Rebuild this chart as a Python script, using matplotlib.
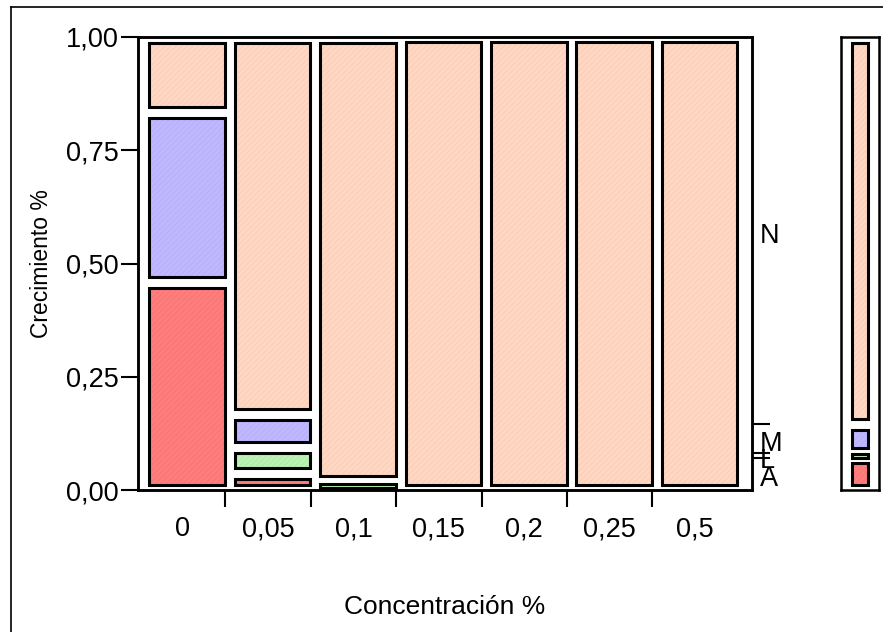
import numpy as np
import matplotlib.pyplot as plt
from matplotlib.patches import Rectangle
from matplotlib.lines import Line2D
from matplotlib.transforms import blended_transform_factory, offset_copy

plt.rcParams['font.family'] = ['Liberation Sans', 'DejaVu Sans']
plt.rcParams['hatch.linewidth'] = 0.6

# proporciones de crecimiento por concentración
concentraciones = ['0', '0,05', '0,1', '0,15', '0,2', '0,25', '0,5']
niveles = ['A', 'L', 'M', 'N']
prop_A = [0.458, 0.037, 0.0, 0.0, 0.0, 0.0, 0.0]
prop_L = [0.0, 0.056, 0.019, 0.0, 0.0, 0.0, 0.0]
prop_M = [0.375, 0.074, 0.0, 0.0, 0.0, 0.0, 0.0]
prop_N = [0.167, 0.833, 0.981, 1.0, 1.0, 1.0, 1.0]

colores = {'A': '#ff7d7d', 'L': '#baf3b3', 'M': '#c0b8ff', 'N': '#ffd7c2'}
trama = {'A': '#f57474', 'L': '#aee9a7', 'M': '#b6adf8', 'N': '#f7cdb7'}

tabla = np.array([prop_A, prop_L, prop_M, prop_N])
marginal = tabla.mean(axis=1)

W, H = 883, 632
fig = plt.figure(figsize=(W / 100, H / 100), dpi=100)


def ejes(x0, y0, x1, y1):
    return fig.add_axes([x0 / W, 1 - y1 / H, (x1 - x0) / W, (y1 - y0) / H])


# marco exterior
fig.add_artist(Line2D([11 / W, 11 / W], [0, 1 - 7 / H], color='black', lw=1.2))
fig.add_artist(Line2D([11 / W, 1], [1 - 7 / H, 1 - 7 / H], color='black', lw=1.2))

ax = ejes(138, 37, 752, 490)
ax_m = ejes(841, 37, 879, 490)

GAP = 5.5 / 453
MIN_H = 4.0 / 453


def celda(axis, x0, x1, a, b, nivel):
    y0, y1 = a + GAP, b - GAP
    if y1 - y0 < MIN_H:
        c = (a + b) / 2
        y0, y1 = c - MIN_H / 2, c + MIN_H / 2
    axis.add_patch(Rectangle((x0, y0), x1 - x0, y1 - y0, facecolor=colores[nivel],
                             edgecolor=trama[nivel], lw=0, hatch='//////'))
    axis.add_patch(Rectangle((x0, y0), x1 - x0, y1 - y0, fill=False,
                             edgecolor='black', lw=2.2, joinstyle='miter'))


for k in range(len(concentraciones)):
    base = 0.0
    for i, nivel in enumerate(niveles):
        p = tabla[i, k]
        if p > 0:
            celda(ax, k + 0.111, k + 0.996, base, base + p, nivel)
        base += p

ax.set_xlim(-2 / 85.4, 612 / 85.4)
ax.set_ylim(0, 1)
ax.set_yticks([0, 0.25, 0.5, 0.75, 1.0])
ax.set_yticklabels(['0,00', '0,25', '0,50', '0,75', '1,00'])
ax.set_xticks(range(1, len(concentraciones)))
ax.set_xticklabels([])
ax.set_xticks(np.arange(len(concentraciones)) + 0.5, minor=True)
ax.set_xticklabels(concentraciones, minor=True)
ax.tick_params(axis='y', length=12, width=1.5, pad=2, labelsize=19.5)
ax.tick_params(axis='x', which='major', length=12, width=1.5)
ax.tick_params(axis='x', which='minor', length=0, pad=19, labelsize=19.5)
for s in ax.spines.values():
    s.set_linewidth(1.8)

# ejes de la derecha con las proporciones globales
ax2 = ax.twinx()
ax2.set_ylim(0, 1)
cortes = np.cumsum(marginal)[:-1]
ax2.set_yticks(cortes)
ax2.tick_params(axis='y', length=13, width=1.5, labelright=False)
for s in ax2.spines.values():
    s.set_linewidth(1.8)

trans = offset_copy(blended_transform_factory(ax.transAxes, ax.transData),
                    fig=fig, y=-5, units='dots')
base = 0.0
for nivel, p in zip(niveles, marginal):
    ax.text(1.013, base + p / 2, nivel, transform=trans, ha='left', va='center',
            fontsize=19.5)
    base += p

# columna marginal
base = 0.0
for nivel, p in zip(niveles, marginal):
    celda(ax_m, 0.29, 0.70, base, base + p, nivel)
    base += p
ax_m.set_xlim(0, 1)
ax_m.set_ylim(0, 1)
ax_m.set_xticks([])
ax_m.set_yticks([])
for s in ax_m.spines.values():
    s.set_linewidth(1.8)

fig.text(42 / W, 1 - 263.5 / H, 'Crecimiento %', rotation=90, ha='center',
         va='center', fontsize=16.5)
fig.text(445 / W, 1 - 607 / H, 'Concentración %', ha='center', va='center',
         fontsize=19)

fig.savefig('out.png', dpi=100)
